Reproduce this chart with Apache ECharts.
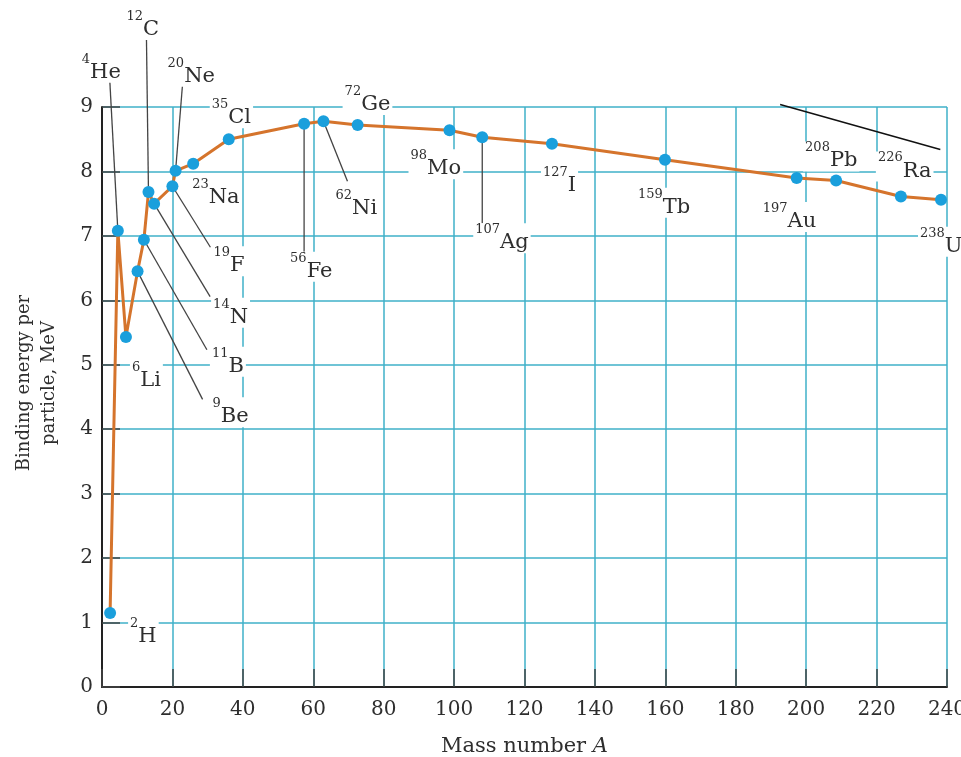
<!DOCTYPE html>
<html><head><meta charset="utf-8">
<script src="https://cdn.jsdelivr.net/npm/echarts@6/dist/echarts.min.js"></script>
<style>html,body{margin:0;padding:0;background:#fff;width:100%;height:100%;overflow:hidden}#c{position:absolute;left:0;top:0;width:961px;height:757px}</style>
</head><body><div id="c"></div>
<script>
// ---- data ----
const symbols = ['H','He','Li','Be','B','C','N','F','Ne','Na','Cl','Fe','Ni','Ge','Mo','Ag','I','Tb','Au','Pb','Ra','U'];
const massNumbers = ['2','4','6','9','11','12','14','19','20','23','35','56','62','72','98','107','127','159','197','208','226','238'];
const massPlotted = [2.3,4.5,6.8,10.1,11.9,13.2,14.8,20.0,20.9,25.9,36.0,57.4,62.9,72.6,98.7,108.0,127.8,159.9,197.3,208.5,226.9,238.3];
const energies = [1.15,7.08,5.43,6.45,6.94,7.68,7.50,7.77,8.01,8.12,8.50,8.74,8.78,8.72,8.64,8.53,8.43,8.18,7.90,7.86,7.61,7.56];
const diagLineA = [192.6, 238.1];
const diagLineE = [9.04, 8.34];

// ---- annotation layout (pixel offsets from each point) ----
const labelOffsets = [[20,29],[-36,-153],[6,49],[75,151],[68,132],[-22,-157],[59,119],[41,85],[-8,-89],[-1,39],[-17,-16],[-14,153],[12,93],[-13,-15],[-39,44],[-7,111],[-9,47],[-27,53],[-34,49],[-31,-14],[-23,-20],[-21,52]];
const leaderEnds = [null,[-8,-149],null,[65,128],[63,110],[-2,-152],[56,93],[38,61],[7,-87],null,null,[0,128],[24,60],null,null,[0,86],null,null,null,null,null,null];

const FONT = '"DejaVu Serif", serif';
const TXT = '#2e2e2e';
const GRIDC = '#3fb1c9';
const el = document.getElementById('c');
const chart = echarts.init(el, null, {renderer:'canvas'});
const option = {
  animation: false,
  backgroundColor: '#fff',
  grid: {left:102, right:14, top:107, bottom:70, containLabel:false, outerBoundsMode:'none'},
  xAxis: {
    type:'value', min:0, max:240, interval:20,
    name:'Mass number {i|A}', nameLocation:'middle', nameGap:49,
    nameTextStyle:{fontFamily:FONT, fontSize:21, color:TXT, rich:{i:{fontFamily:FONT, fontStyle:'italic', fontSize:21, color:TXT}}},
    axisLine:{lineStyle:{color:'#222', width:2}},
    axisTick:{inside:true, length:18, lineStyle:{color:'#444', width:1.5}},
    axisLabel:{fontFamily:FONT, fontSize:20, color:TXT, margin:13},
    splitLine:{show:true, lineStyle:{color:GRIDC, width:1.5}}
  },
  yAxis: {
    type:'value', min:0, max:9, interval:1,
    name:'Binding energy per\nparticle, MeV', nameLocation:'middle', nameRotate:90, nameGap:40,
    nameTextStyle:{fontFamily:FONT, fontSize:18, lineHeight:25, color:TXT, padding:[0,0,0,28]},
    axisLine:{lineStyle:{color:'#222', width:2}},
    axisTick:{inside:true, length:18, lineStyle:{color:'#444', width:1.5}},
    axisLabel:{fontFamily:FONT, fontSize:20, color:TXT, margin:9},
    splitLine:{show:true, lineStyle:{color:GRIDC, width:1.5}}
  },
  series: [
    {type:'line', data: massPlotted.map((a,i)=>[a,energies[i]]), symbol:'circle', symbolSize:12,
     itemStyle:{color:'#1a9fdc'}, lineStyle:{color:'#d5742c', width:3}, z:5},
    {type:'line', data: diagLineA.map((a,i)=>[a,diagLineE[i]]), symbol:'none',
     lineStyle:{color:'#111', width:1.5}, clip:false, z:5}
  ]
};
chart.setOption(option);

const els = [];
massPlotted.forEach((a,i)=>{
  const p = chart.convertToPixel({gridIndex:0}, [a, energies[i]]);
  const off = labelOffsets[i];
  els.push({
    type:'text', z:2, x: p[0]+off[0]-2, y: p[1]+off[1]-25,
    style:{
      text:'{s|'+massNumbers[i]+'}{m|'+symbols[i]+'}',
      align:'left', verticalAlign:'top',
      backgroundColor:'#fff', padding:[0,2,0,2],
      rich:{
        s:{fontFamily:FONT, fontSize:13, lineHeight:13, verticalAlign:'top', fill:TXT},
        m:{fontFamily:FONT, fontSize:21, lineHeight:30, verticalAlign:'bottom', fill:TXT}
      }
    }
  });
  const le = leaderEnds[i];
  if (le) {
    els.push({type:'line', z:1, shape:{x1:p[0], y1:p[1], x2:p[0]+le[0], y2:p[1]+le[1]},
      style:{stroke:'#444', lineWidth:1.3}});
  }
});
chart.setOption({graphic:{elements:els}});
</script></body></html>
